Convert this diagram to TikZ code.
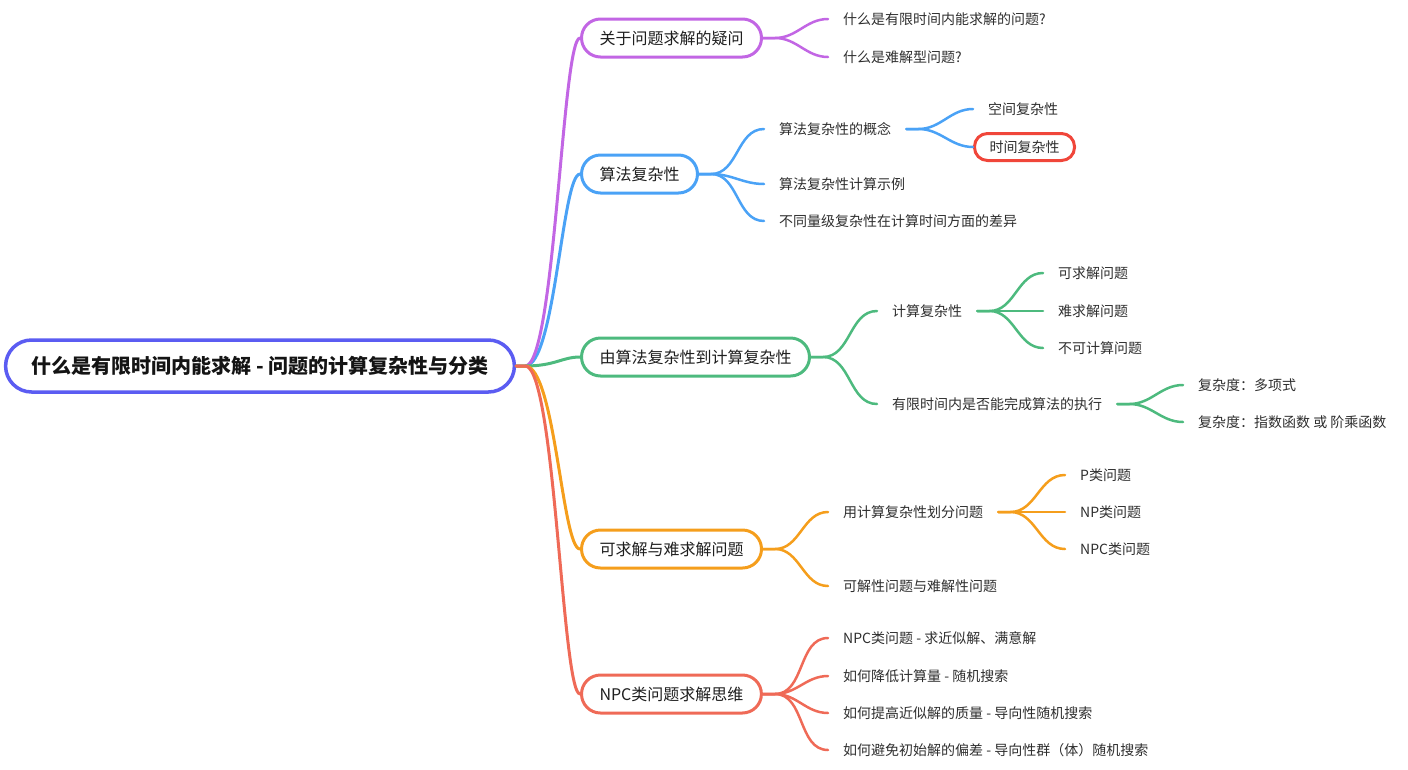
\documentclass[tikz,border=0pt]{standalone}
\usepackage{fontspec}
\newfontfamily\cjk{Noto Sans CJK SC}
\usetikzlibrary{calc}
\definecolor{rootc}{HTML}{5B5CF2}
\definecolor{purc}{HTML}{C266E4}
\definecolor{bluc}{HTML}{4AA2F6}
\definecolor{grnc}{HTML}{4DBA7E}
\definecolor{orac}{HTML}{F59E1C}
\definecolor{redc}{HTML}{EF6A57}
\definecolor{timec}{HTML}{F0463A}

\tikzset{
    rootbox/.style={draw=rootc, line width=3.5, rounded corners=26, minimum height=52,
        inner xsep=26, fill=white, text=black!92, font=\cjk\bfseries\fontsize{20}{24}\selectfont},
    topic/.style={draw=#1, line width=3, rounded corners=19, minimum height=38,
        inner xsep=18, anchor=west, fill=white, text=black!88, font=\cjk\fontsize{16}{19}\selectfont},
    leaf/.style={anchor=west, inner xsep=15, inner ysep=2, text=black!82,
        font=\cjk\fontsize{14}{17}\selectfont},
    link/.style={draw=#1, line width=2.5, line cap=round},
}

\begin{document}
\begin{tikzpicture}[x=1pt,y=-1pt]
    \useasboundingbox (0,0) rectangle (1408,769);

    % root and main topics
    \node[rootbox] (root) at (260,366) {什么是有限时间内能求解 - 问题的计算复杂性与分类};
    \node[topic=purc] (t1) at (580,38)  {关于问题求解的疑问};
    \node[topic=bluc] (t2) at (580,174) {算法复杂性};
    \node[topic=grnc] (t3) at (580,357) {由算法复杂性到计算复杂性};
    \node[topic=orac] (t4) at (580,549) {可求解与难求解问题};
    \node[topic=redc] (t5) at (580,694) {NPC类问题求解思维};

    % second level
    \node[leaf] (t1a) at (828,19)  {什么是有限时间内能求解的问题?};
    \node[leaf] (t1b) at (828,57)  {什么是难解型问题?};
    \node[leaf] (t2a) at (764,129) {算法复杂性的概念};
    \node[leaf] (t2b) at (764,184) {算法复杂性计算示例};
    \node[leaf] (t2c) at (764,221) {不同量级复杂性在计算时间方面的差异};
    \node[leaf] (t3a) at (877,311) {计算复杂性};
    \node[leaf] (t3b) at (877,404) {有限时间内是否能完成算法的执行};
    \node[leaf] (t4a) at (828,512) {用计算复杂性划分问题};
    \node[leaf] (t4b) at (828,586) {可解性问题与难解性问题};
    \node[leaf] (t5a) at (828,638) {NPC类问题 - 求近似解、满意解};
    \node[leaf] (t5b) at (828,676) {如何降低计算量 - 随机搜索};
    \node[leaf] (t5c) at (828,713) {如何提高近似解的质量 - 导向性随机搜索};
    \node[leaf] (t5d) at (828,750) {如何避免初始解的偏差 - 导向性群（体）随机搜索};

    % third level
    \node[leaf] (s1) at (973,109) {空间复杂性};
    \node[leaf, draw=timec, line width=3, rounded corners=13, minimum height=27] (s2) at (973,147) {时间复杂性};
    \node[leaf] (c1) at (1043,273) {可求解问题};
    \node[leaf] (c2) at (1043,311) {难求解问题};
    \node[leaf] (c3) at (1043,348) {不可计算问题};
    \node[leaf] (d1) at (1183,385) {复杂度：多项式};
    \node[leaf] (d2) at (1183,422) {复杂度：指数函数 或 阶乘函数};
    \node[leaf] (p1) at (1065,475) {P类问题};
    \node[leaf] (p2) at (1065,512) {NP类问题};
    \node[leaf] (p3) at (1065,549) {NPC类问题};

    % connectors
    \foreach \t/\c in {t2/bluc,t1/purc,t3/grnc,t4/orac,t5/redc}
        \draw[link=\c, line width=3] (root.east) -- ++(9,0)
            to[out=0,in=180,out distance=30,in distance=18] (\t.west);
    \foreach \t in {t1a,t1b}
        \draw[link=purc] (t1.east) -- ++(12,0) to[out=0,in=180] (\t.west);
    \foreach \t in {t2a,t2b,t2c}
        \draw[link=bluc] (t2.east) -- ++(12,0) to[out=0,in=180] (\t.west);
    \foreach \t in {s1,s2}
        \draw[link=bluc] (t2a.east) -- ++(12,0) to[out=0,in=180] (\t.west);
    \foreach \t in {t3a,t3b}
        \draw[link=grnc] (t3.east) -- ++(12,0) to[out=0,in=180] (\t.west);
    \foreach \t in {c1,c2,c3}
        \draw[link=grnc] (t3a.east) -- ++(12,0) to[out=0,in=180] (\t.west);
    \foreach \t in {d1,d2}
        \draw[link=grnc] (t3b.east) -- ++(12,0) to[out=0,in=180] (\t.west);
    \foreach \t in {t4a,t4b}
        \draw[link=orac] (t4.east) -- ++(12,0) to[out=0,in=180] (\t.west);
    \foreach \t in {p1,p2,p3}
        \draw[link=orac] (t4a.east) -- ++(12,0) to[out=0,in=180] (\t.west);
    \foreach \t in {t5a,t5b,t5c,t5d}
        \draw[link=redc] (t5.east) -- ++(12,0) to[out=0,in=180] (\t.west);
\end{tikzpicture}
\end{document}
